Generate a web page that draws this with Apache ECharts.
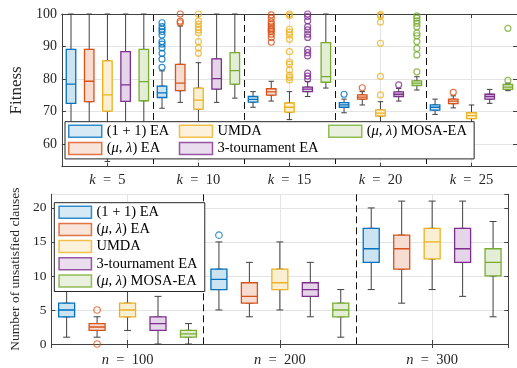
<!DOCTYPE html>
<html>
<head>
<meta charset="utf-8">
<script src="https://cdn.jsdelivr.net/npm/echarts@6/dist/echarts.min.js"></script>
<style>
html, body { margin: 0; padding: 0; background: #fff; }
#chart { width: 517px; height: 368px; }
</style>
</head>
<body>
<div id="chart"></div>
<script>
const kGroups = ['k = 5', 'k = 10', 'k = 15', 'k = 20', 'k = 25'];
const nGroups = ['n = 100', 'n = 200', 'n = 300'];
const algNames = ['(1 + 1) EA', '(μ, λ) EA', 'UMDA', '3-tournament EA', '(μ, λ) MOSA-EA'];
const lineColors = ['#0072BD', '#D95319', '#EDB120', '#7E2F8E', '#77AC30'];
const fillColors = ['#CCE3F2', '#F7DDD1', '#FBEFD3', '#E5D5E8', '#E4EED6'];

// fitness: [min, Q1, median, Q3, max] for each k
const fitOnePlusOne = [[56, 72.5, 78.4, 89.1, 100], [71.0, 74.3, 75.7, 77.8, 82.5], [71.3, 72.9, 73.7, 74.6, 76.1], [69.6, 71.3, 72.0, 72.7, 73.8], [69.1, 70.4, 71.3, 72.0, 73.8]];
const fitMuLambda = [[57, 73.0, 79.3, 89.1, 100], [72.8, 76.4, 78.7, 84.5, 96.3], [73.2, 75.0, 76.0, 77.0, 79.3], [72.0, 73.8, 74.4, 75.1, 76.1], [71.1, 72.4, 73.2, 73.8, 74.8]];
const fitUmda = [[54.6, 70.1, 75.1, 85.6, 100], [58, 70.7, 73.5, 77.2, 85.0], [67.5, 69.8, 71.3, 72.6, 76.1], [66, 68.6, 69.5, 70.5, 73.0], [65.1, 67.8, 68.7, 69.6, 72.0]];
const fitTournament = [[56, 73.1, 78.2, 88.4, 100], [72.8, 76.9, 80.1, 86.2, 100], [74.6, 76.1, 76.9, 77.5, 79.2], [73.2, 74.6, 75.3, 76.0, 77.1], [72.5, 73.8, 74.6, 75.3, 76.8]];
const fitMosa = [[57, 73.3, 79.2, 89.1, 100], [74.1, 78.4, 82.6, 88.1, 100], [77.2, 79.0, 80.7, 91.2, 100], [76.6, 78.0, 78.7, 79.4, 80.7], [76.4, 76.8, 77.5, 78.3, 78.7]];

// fitness outliers: [k index, value]
const fitOutOnePlusOne = [[1, 97.3], [1, 96.1], [1, 95.3], [1, 94.6], [1, 93.5], [1, 91.5], [1, 90.7], [1, 89.6], [1, 87.9], [1, 86.1], [1, 83.6], [3, 75.3]];
const fitOutMuLambda = [[1, 100], [1, 97.8], [1, 97.3], [2, 99.7], [2, 98.7], [2, 97.6], [2, 96.9], [2, 96.3], [2, 95.6], [2, 95.1], [2, 94.6], [2, 93.8], [2, 92.8], [2, 91.3], [3, 77.3], [4, 75.9]];
const fitOutUmda = [[1, 100], [1, 97.9], [1, 96.9], [1, 95.9], [1, 95.1], [1, 94.2], [1, 91.5], [1, 89.6], [1, 87.9], [2, 100], [2, 99.5], [2, 95.3], [2, 94.4], [2, 93.5], [2, 92.2], [2, 88.4], [2, 85.3], [2, 84.6], [2, 82.8], [2, 81.2], [2, 80.5], [2, 79.7], [3, 99.8], [3, 99.4], [3, 97.5], [3, 91.0], [3, 80.8], [3, 75.1]];
const fitOutTournament = [[2, 100], [2, 99.2], [2, 97.9], [2, 96.1], [2, 95.1], [2, 93.8], [2, 92.8], [2, 89.1], [2, 88.1], [2, 87.1], [2, 81.8], [2, 80.9], [2, 80.0], [3, 78.2]];
const fitOutMosa = [[3, 99.4], [3, 98.7], [3, 97.9], [3, 97.1], [3, 96.1], [3, 94.1], [3, 93.3], [3, 91.5], [3, 89.4], [3, 87.4], [3, 82.2], [4, 79.6], [4, 95.6]];

// unsatisfied clauses: [min, Q1, median, Q3, max] for each n
const unsatOnePlusOne = [[1, 4, 5, 6, 9], [5, 8, 9.5, 11, 15], [8, 12, 14, 17, 20]];
const unsatMuLambda = [[1, 2, 2.5, 3, 4], [4, 6, 7, 9, 12], [6, 11, 14, 16, 21]];
const unsatUmda = [[2, 4, 5, 6, 9], [5, 8, 9, 11, 15], [8, 12.5, 15, 17, 21]];
const unsatTournament = [[0, 2, 3, 4, 7], [4, 7, 8, 9, 12], [7, 12, 14, 17, 21]];
const unsatMosa = [[0, 1, 1.5, 2, 3], [1, 4, 5, 6, 8], [4, 10, 12, 14, 18]];

const unsatOutOnePlusOne = [[1, 16]];
const unsatOutMuLambda = [[0, 5], [0, 0]];
const unsatOutUmda = [];
const unsatOutTournament = [];
const unsatOutMosa = [];

const topStats = [fitOnePlusOne, fitMuLambda, fitUmda, fitTournament, fitMosa];
const topOut = [fitOutOnePlusOne, fitOutMuLambda, fitOutUmda, fitOutTournament, fitOutMosa];
const botStats = [unsatOnePlusOne, unsatMuLambda, unsatUmda, unsatTournament, unsatMosa];
const botOut = [unsatOutOnePlusOne, unsatOutMuLambda, unsatOutUmda, unsatOutTournament, unsatOutMosa];

const FONT = 'Liberation Serif';
const AXIS_COLOR = '#404040';
const TEXT_COLOR = '#262626';
const GRID_COLOR = '#e4e4e4';
const nAlg = algNames.length;

function slots(count) {
    let arr = [];
    for (let i = 0; i < count; i++) arr.push(String(i));
    return arr;
}

function whiskerData(statsList) {
    let out = [];
    statsList.forEach((stats, s) => {
        stats.forEach((b, g) => out.push([g * nAlg + s].concat(b)));
    });
    return out;
}

function boxData(statsList) {
    let out = [];
    statsList.forEach((stats, s) => {
        stats.forEach((b, g) => out.push({
            value: [g * nAlg + s, b[1], b[1], b[2], b[3], b[3]],
            itemStyle: { color: fillColors[s], borderColor: lineColors[s] }
        }));
    });
    return out;
}

function mathLabel(v) {
    return v.replace(/^([kn])/, '{i|$1}').replace(' = ', '  =  ');
}

// trailing no-break spaces keep the legend columns apart
function legendLabel(name) {
    return name.replace(/([μλ])/g, '{i|$1}') + '\u00a0\u00a0';
}

function labelAxis(gridIndex, cats, fontSize, margin) {
    return {
        type: 'category', gridIndex: gridIndex, position: 'bottom', data: cats,
        axisLine: { show: true, lineStyle: { color: AXIS_COLOR, width: 1 } },
        axisTick: { show: true, inside: true, alignWithLabel: true, length: 4, lineStyle: { color: AXIS_COLOR } },
        axisLabel: {
            color: TEXT_COLOR, fontFamily: FONT, fontSize: fontSize, margin: margin,
            formatter: mathLabel,
            rich: { i: { fontStyle: 'italic', fontFamily: FONT, fontSize: fontSize, color: TEXT_COLOR } }
        },
        splitLine: { show: true, lineStyle: { color: '#111', type: [7, 4], width: 1 } }
    };
}

function mirrorAxis(gridIndex, count) {
    return {
        type: 'value', gridIndex: gridIndex, position: 'top',
        min: 0.5, max: count + 0.5, splitNumber: count,
        axisLine: { show: true, lineStyle: { color: AXIS_COLOR, width: 1 } },
        axisTick: { show: true, inside: true, length: 4, lineStyle: { color: AXIS_COLOR } },
        axisLabel: { show: false },
        splitLine: { show: true, lineStyle: { color: GRID_COLOR, width: 1 } }
    };
}

function hiddenAxis(gridIndex, count) {
    return { type: 'category', gridIndex: gridIndex, data: slots(count), show: false };
}

// vertical legend that wraps into columns once "height" is used up
function legendBlock(left, top, height, padding, iconW) {
    return {
        orient: 'vertical', left: left, top: top, height: height, padding: padding,
        itemGap: 2.2, itemWidth: iconW, itemHeight: 12, icon: 'rect',
        backgroundColor: '#fff', borderColor: '#262626', borderWidth: 1,
        selectedMode: false,
        formatter: legendLabel,
        textStyle: {
            fontFamily: FONT, fontSize: 14.5, color: '#000',
            rich: { i: { fontStyle: 'italic', fontFamily: FONT, fontSize: 14.5, color: '#000' } }
        },
        data: algNames.map((name, s) => ({
            name: name,
            itemStyle: { color: fillColors[s], borderColor: lineColors[s], borderWidth: 1.5 }
        }))
    };
}

let series = [];
function addPlot(statsList, outList, xWhisker, xBox, yIdx, boxW, capW, symSize) {
    series.push({
        type: 'boxplot', xAxisIndex: xWhisker, yAxisIndex: yIdx,
        encode: { x: 0, y: [1, 2, 3, 4, 5] },
        boxWidth: [capW, capW], silent: true,
        itemStyle: { color: 'rgba(0,0,0,0)', borderColor: AXIS_COLOR, borderWidth: 1 },
        data: whiskerData(statsList)
    });
    series.push({
        type: 'boxplot', xAxisIndex: xBox, yAxisIndex: yIdx,
        encode: { x: 0, y: [1, 2, 3, 4, 5] },
        boxWidth: [boxW, boxW], silent: true,
        itemStyle: { borderWidth: 1.3 },
        data: boxData(statsList)
    });
    outList.forEach((pts, s) => {
        series.push({
            name: algNames[s], type: 'scatter', xAxisIndex: xWhisker, yAxisIndex: yIdx,
            symbol: 'circle', symbolSize: symSize, silent: true,
            itemStyle: { color: 'rgba(0,0,0,0)', borderColor: lineColors[s], borderWidth: 1.2 },
            data: pts.map(p => [p[0] * nAlg + s, p[1]])
        });
    });
}
addPlot(topStats, topOut, 2, 3, 0, 9.5, 5.5, 6);
addPlot(botStats, botOut, 6, 7, 2, 16, 7, 6.5);

const option = {
    animation: false,
    backgroundColor: '#fff',
    grid: [
        { left: 56, top: 14, width: 462, height: 152.7 },
        { left: 45.7, top: 194.3, width: 462.6, height: 154.7 }
    ],
    xAxis: [
        mirrorAxis(0, kGroups.length),
        labelAxis(0, kGroups, 14.5, 6),
        hiddenAxis(0, kGroups.length * nAlg),
        hiddenAxis(0, kGroups.length * nAlg),
        mirrorAxis(1, nGroups.length),
        labelAxis(1, nGroups, 14.5, 9),
        hiddenAxis(1, nGroups.length * nAlg),
        hiddenAxis(1, nGroups.length * nAlg)
    ],
    yAxis: [
        {
            type: 'value', gridIndex: 0, position: 'left', min: 53, max: 100, splitNumber: 5,
            name: 'Fitness', nameLocation: 'middle', nameGap: 36,
            nameTextStyle: { fontFamily: FONT, fontSize: 17, color: TEXT_COLOR },
            axisLine: { show: true, lineStyle: { color: AXIS_COLOR, width: 1 } },
            axisTick: { show: true, inside: true, length: 4, lineStyle: { color: AXIS_COLOR } },
            axisLabel: { color: TEXT_COLOR, fontFamily: FONT, fontSize: 14, margin: 5, showMinLabel: false },
            splitLine: { show: true, lineStyle: { color: GRID_COLOR, width: 1 } }
        },
        {
            type: 'value', gridIndex: 0, position: 'right', min: 53, max: 100, splitNumber: 5,
            axisLine: { show: true, lineStyle: { color: AXIS_COLOR, width: 1 } },
            axisTick: { show: true, inside: true, length: 4, lineStyle: { color: AXIS_COLOR } },
            axisLabel: { show: false }, splitLine: { show: false }
        },
        {
            type: 'value', gridIndex: 1, position: 'left', min: 0, max: 22, interval: 5,
            name: 'Number of unsatisfied clauses', nameLocation: 'middle', nameGap: 27,
            nameTextStyle: { fontFamily: FONT, fontSize: 13.5, color: TEXT_COLOR },
            axisLine: { show: true, lineStyle: { color: AXIS_COLOR, width: 1 } },
            axisTick: { show: true, inside: true, length: 4, lineStyle: { color: AXIS_COLOR } },
            axisLabel: { color: TEXT_COLOR, fontFamily: FONT, fontSize: 13.5, margin: 5, showMaxLabel: false },
            splitLine: { show: true, lineStyle: { color: GRID_COLOR, width: 1 } }
        },
        {
            type: 'value', gridIndex: 1, position: 'right', min: 0, max: 22, interval: 5,
            axisLine: { show: true, lineStyle: { color: AXIS_COLOR, width: 1 } },
            axisTick: { show: true, inside: true, length: 4, lineStyle: { color: AXIS_COLOR } },
            axisLabel: { show: false }, splitLine: { show: false }
        }
    ],
    legend: [
        legendBlock(65, 121.7, 40, [2, 0, 3, 3], 33),
        legendBlock(54.3, 202.7, 120, [2, 0, 3, 4], 32.4)
    ],
    series: series
};

let myChart = echarts.init(document.getElementById('chart'), null, { renderer: 'canvas' });
myChart.setOption(option);
</script>
</body>
</html>
